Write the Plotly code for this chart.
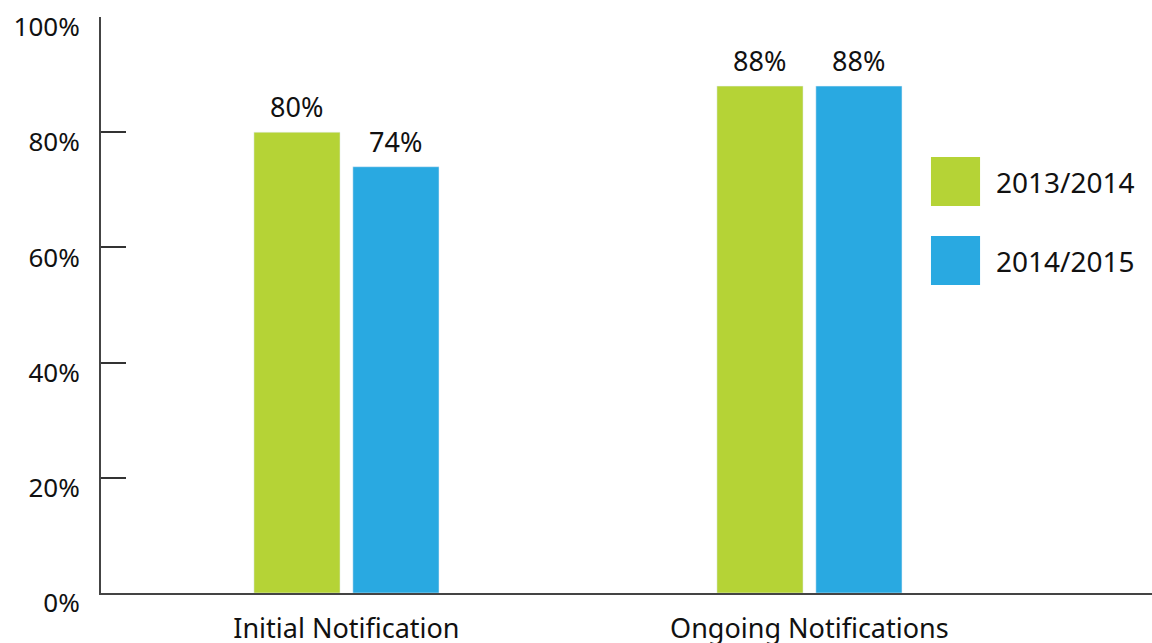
import plotly.graph_objects as go

categories = ["Initial Notification", "Ongoing Notifications"]
series_names = ["2013/2014", "2014/2015"]
values_2013_2014 = [80, 88]
values_2014_2015 = [74, 88]
y_tick_values = [0, 20, 40, 60, 80, 100]
y_tick_labels = ["0%", "20%", "40%", "60%", "80%", "100%"]

colors = ["#B5D336", "#29A9E1"]
font_family = "Noto Sans, Open Sans, sans-serif"
text_color = "#111111"

bar_width = 0.186
bar_offsets = [-0.1997, 0.014]
xs = list(range(len(categories)))

fig = go.Figure()
annotations = []
for name, vals, color, off in zip(series_names,
                                  [values_2013_2014, values_2014_2015],
                                  colors, bar_offsets):
    fig.add_trace(go.Bar(
        x=xs, y=vals, name=name, marker_color=color,
        width=bar_width, offset=off, showlegend=False,
    ))
    for x, v in zip(xs, vals):
        annotations.append(dict(
            x=x + off + bar_width / 2, y=v, xref="x", yref="y",
            text=f"{v}%", showarrow=False, yanchor="bottom", yshift=5,
            font=dict(size=27, color=text_color, family=font_family),
        ))

# Custom legend: large colour squares with labels on the right
legend_boxes = [(0.7569, 0.6719), (0.6198, 0.5347)]
shapes = []
for (y1, y0), color, name in zip(legend_boxes, colors, series_names):
    shapes.append(dict(type="rect", xref="paper", yref="paper",
                       x0=0.7897, x1=0.8364, y0=y0, y1=y1,
                       fillcolor=color, line=dict(width=0)))
    annotations.append(dict(
        x=0.850, y=(y0 + y1) / 2, xref="paper", yref="paper",
        text=name, showarrow=False, xanchor="left", yanchor="middle",
        font=dict(size=28, color=text_color, family=font_family),
    ))

fig.update_layout(
    width=1152, height=643,
    margin=dict(l=101, r=0, t=17, b=50),
    paper_bgcolor="white", plot_bgcolor="white",
    font=dict(family=font_family, color=text_color),
    shapes=shapes, annotations=annotations,
    xaxis=dict(
        range=[-0.530, 1.740], tickvals=xs, ticktext=categories,
        showgrid=False, zeroline=False, ticks="", automargin=False,
        showline=True, linecolor="#444444", linewidth=2,
        tickfont=dict(size=27, color=text_color),
        ticklabelstandoff=11,
    ),
    yaxis=dict(
        range=[0, 100], tickvals=y_tick_values, ticktext=y_tick_labels,
        showgrid=False, zeroline=False, automargin=False,
        ticks="inside", ticklen=25, tickcolor="#333333", tickwidth=1.5,
        showline=True, linecolor="#444444", linewidth=2,
        tickfont=dict(size=26, color=text_color),
        ticklabelstandoff=14, ticklabelshift=10,
    ),
)

fig.write_html("out.html")
